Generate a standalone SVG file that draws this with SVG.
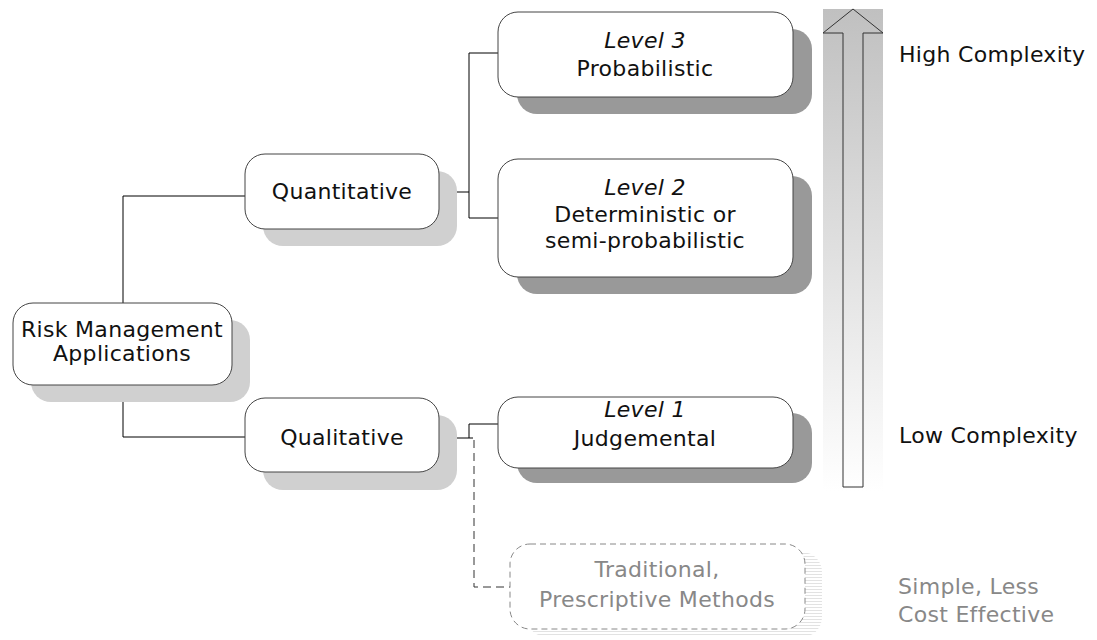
<svg xmlns="http://www.w3.org/2000/svg" width="1097" height="640" viewBox="0 0 1097 640">
  <defs>
    <linearGradient id="rampFill" x1="0" y1="0" x2="0" y2="1">
      <stop offset="0" stop-color="#c0c0c0"/>
      <stop offset="1" stop-color="#ffffff"/>
    </linearGradient>
    <pattern id="hatch" width="4" height="3" patternUnits="userSpaceOnUse">
      <rect width="4" height="3" fill="#ffffff"/>
      <rect y="1" width="4" height="1" fill="#e2e2e2"/>
    </pattern>
    <style>
      text { font-family: "DejaVu Sans", "Liberation Sans", sans-serif; font-size: 22px; letter-spacing: 0.3px; fill: #111; }
      .mid { text-anchor: middle; }
      .it { font-style: italic; }
      .faint { fill: #888; }
      .box { fill: #fff; stroke: #444; stroke-width: 1; }
      .shadeLight { fill: #d0d0d0; }
      .shadeDark { fill: #999; }
      .dashed { fill: #fff; stroke: #888; stroke-width: 1; stroke-dasharray: 6 4; }
      .wire { fill: none; stroke: #000; stroke-width: 1; }
      .wireDash { fill: none; stroke: #333; stroke-width: 1; stroke-dasharray: 8 5; }
    </style>
  </defs>

  <rect width="1097" height="640" fill="#fff"/>

  <!-- complexity scale -->
  <g id="scale">
    <rect x="823" y="9" width="60" height="482" fill="url(#rampFill)"/>
    <path d="M853 9 L883 33 L863 33 L863 487 L843 487 L843 33 L823 33 Z" fill="none" stroke="#333" stroke-width="1"/>
  </g>

  <!-- connectors -->
  <g id="connectors">
    <path class="wire" d="M123 196 L123 303"/>
    <path class="wire" d="M123 385 L123 437 L245 437"/>
    <path class="wire" d="M123 196 L245 196"/>
    <path class="wire" d="M439 192 L469 192"/>
    <path class="wire" d="M498 53 L469 53 L469 218 L498 218"/>
    <path class="wire" d="M439 438 L473 438"/>
    <path class="wire" d="M469 438 L469 424 L498 424"/>
    <path class="wireDash" d="M474 440 L474 587 L510 587"/>
  </g>

  <g id="node-risk">
    <rect class="shadeLight" x="31" y="320" width="219" height="82" rx="20"/>
    <rect class="box" x="13" y="303" width="219" height="82" rx="20"/>
    <text class="mid" x="122" y="337">Risk Management</text>
    <text class="mid" x="122" y="361">Applications</text>
  </g>

  <g id="node-quantitative">
    <rect class="shadeLight" x="263" y="171" width="194" height="75" rx="20"/>
    <rect class="box" x="245" y="154" width="194" height="75" rx="20"/>
    <text class="mid" x="342" y="199">Quantitative</text>
  </g>

  <g id="node-qualitative">
    <rect class="shadeLight" x="263" y="415" width="194" height="75" rx="20"/>
    <rect class="box" x="245" y="398" width="194" height="74" rx="20"/>
    <text class="mid" x="342" y="445">Qualitative</text>
  </g>

  <g id="node-level3">
    <rect class="shadeDark" x="517" y="29" width="295" height="85" rx="20"/>
    <rect class="box" x="498" y="12" width="295" height="85" rx="20"/>
    <text class="mid it" x="645" y="48">Level 3</text>
    <text class="mid" x="645" y="76">Probabilistic</text>
  </g>

  <g id="node-level2">
    <rect class="shadeDark" x="517" y="176" width="295" height="118" rx="20"/>
    <rect class="box" x="498" y="159" width="295" height="118" rx="20"/>
    <text class="mid it" x="645" y="195">Level 2</text>
    <text class="mid" x="645" y="222">Deterministic or</text>
    <text class="mid" x="645" y="248">semi-probabilistic</text>
  </g>

  <g id="node-level1">
    <rect class="shadeDark" x="517" y="413" width="295" height="70" rx="20"/>
    <rect class="box" x="498" y="397" width="295" height="71" rx="20"/>
    <text class="mid it" x="645" y="417">Level 1</text>
    <text class="mid" x="645" y="446">Judgemental</text>
  </g>

  <g id="node-traditional">
    <rect x="527" y="552" width="295" height="85" rx="20" fill="url(#hatch)"/>
    <rect class="dashed" x="510" y="544" width="295" height="85" rx="20"/>
    <text class="mid faint" x="657" y="577">Traditional,</text>
    <text class="mid faint" x="657" y="607">Prescriptive Methods</text>
  </g>

  <g id="labels">
    <text x="899" y="62">High Complexity</text>
    <text x="899" y="443">Low Complexity</text>
    <text class="faint" x="898" y="594">Simple, Less</text>
    <text class="faint" x="898" y="622">Cost Effective</text>
  </g>
</svg>
